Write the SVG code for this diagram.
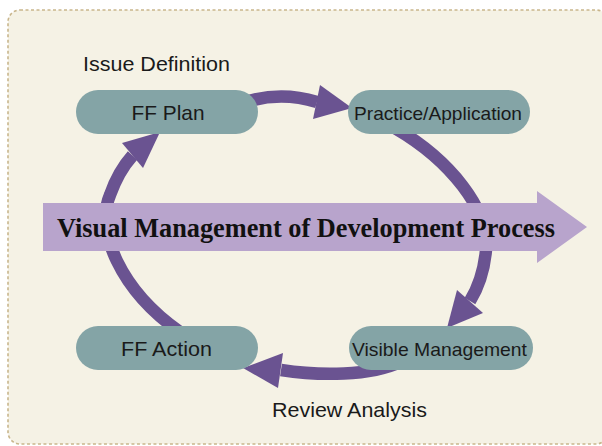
<svg xmlns="http://www.w3.org/2000/svg" width="602" height="446" viewBox="0 0 602 446">
<style>
.bg{fill:#f5f2e5;stroke:#c9b68c;stroke-width:1.6;stroke-dasharray:3 2.5}
.ring{fill:none;stroke:#6a5391;stroke-width:12.5}
.ah{fill:#6a5391}
.node{fill:#84a4a6}
.lbl{font-family:"Liberation Sans",Arial,sans-serif;fill:#1a1a1a}
.big{fill:#b8a4cc}
.bigt{font-family:"Liberation Serif","Times New Roman",serif;font-weight:bold;font-size:27px;fill:#111}
</style>
<rect width="602" height="446" fill="#ffffff"/>
<rect class="bg" x="8" y="10" width="600" height="434" rx="12"/>
<g id="connectors">
<path class="ring" d="M 240 104 Q 278 90 317 102"/>
<polygon class="ah" points="320,85 352,108 313,119"/>
<path class="ring" d="M 395 128 C 450 160, 490 210, 486 250 C 484 272, 478 288, 470 301"/>
<polygon class="ah" points="457,290 483,313 447,328"/>
<path class="ring" d="M 400 362 C 370 376, 320 376, 281 370"/>
<polygon class="ah" points="283,353 243,368 278,388"/>
<path class="ring" d="M 180 332 C 120 290, 95 230, 110 195 C 116 178, 124 165, 132.5 155.5"/>
<polygon class="ah" points="122,143 160,132 143,168"/>
</g>
<g id="process-arrow">
<polygon class="big" points="43,203 537,203 537,191 587,227 537,263 537,251 43,251"/>
<text class="bigt" x="57" y="237" textLength="498" lengthAdjust="spacingAndGlyphs">Visual Management of Development Process</text>
</g>
<g id="ff-plan">
<rect class="node" x="76" y="90" width="182" height="44" rx="22"/>
<text class="lbl" x="168" y="120" font-size="21" text-anchor="middle" textLength="73" lengthAdjust="spacingAndGlyphs">FF Plan</text>
</g>
<g id="practice-application">
<rect class="node" x="348" y="90" width="182" height="44" rx="22"/>
<text class="lbl" x="438" y="120" font-size="19" text-anchor="middle" textLength="168" lengthAdjust="spacingAndGlyphs">Practice/Application</text>
</g>
<g id="visible-management">
<rect class="node" x="349" y="326" width="184" height="44" rx="22"/>
<text class="lbl" x="439.5" y="356" font-size="19" text-anchor="middle" textLength="175" lengthAdjust="spacingAndGlyphs">Visible Management</text>
</g>
<g id="ff-action">
<rect class="node" x="76" y="326" width="182" height="44" rx="22"/>
<text class="lbl" x="166.5" y="356" font-size="21" text-anchor="middle" textLength="91" lengthAdjust="spacingAndGlyphs">FF Action</text>
</g>
<g id="labels">
<text class="lbl" x="83" y="71" font-size="21" textLength="147" lengthAdjust="spacingAndGlyphs">Issue Definition</text>
<text class="lbl" x="272" y="417" font-size="21" textLength="155" lengthAdjust="spacingAndGlyphs">Review Analysis</text>
</g>
</svg>
